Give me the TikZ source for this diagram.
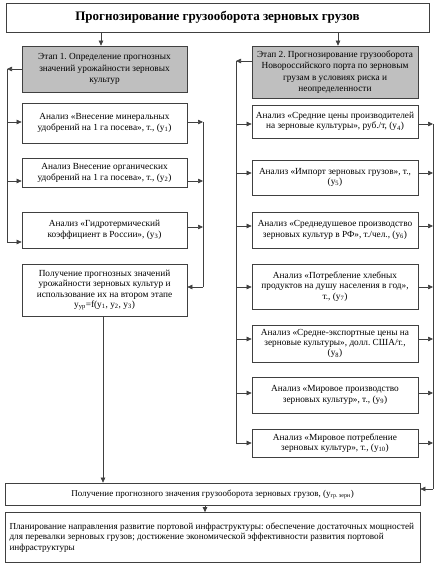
\documentclass[tikz,border=0pt]{standalone}
\usepackage{fontspec}
\setmainfont{Liberation Serif}
\usetikzlibrary{arrows.meta}
\newcommand{\sbs}[1]{\textsubscript{#1}}
\frenchspacing
\begin{document}
\begin{tikzpicture}[x=1pt,y=-1pt,
  box/.style={draw=black!75, line width=0.7pt, fill=white, align=flush center, inner sep=1pt,
    font=\fontsize{9.3}{10.4}\selectfont, text width=158pt},
  stagebox/.style={box, fill=black!25, font=\fontsize{9.3}{11.4}\selectfont},
  arr/.style={-{Triangle[length=5pt,width=4.5pt]}, line width=0.6pt, draw=black!75},
  ln/.style={line width=0.6pt, draw=black!75}]
\useasboundingbox (0,0) rectangle (435,564);
% title
\node[draw=black!75, line width=0.7pt, minimum width=423pt, minimum height=29pt, inner sep=0pt,
  font=\fontsize{13}{15}\selectfont\bfseries] (title) at (217.5,17.5) {Прогнозирование грузооборота зерновых грузов};
% stages
\node[stagebox, minimum width=165pt, minimum height=46pt, text width=150pt] (s1) at (104.5,69) {Этап 1. Определение прогнозных значений урожайности зерновых культур};
\node[stagebox, minimum width=166pt, minimum height=52pt, text width=162pt] (s2) at (335,72) {Этап 2. Прогнозирование грузооборота Новороссийского порта по зерновым грузам в условиях риска и неопределенности};
% left boxes
\node[box, minimum width=165pt, minimum height=40pt] (l1) at (104.5,123) {Анализ «Внесение минеральных удобрений на 1 га посева», т., (y\sbs{1})};
\node[box, minimum width=165pt, minimum height=29pt] (l2) at (104.5,173) {Анализ Внесение органических удобрений на 1 га посева», т., (y\sbs{2})};
\node[box, minimum width=165pt, minimum height=36pt] (l3) at (104.5,230) {Анализ «Гидротермический коэффициент в России», (y\sbs{3})};
\node[box, minimum width=165pt, minimum height=52pt] (l4) at (104.5,290) {Получение прогнозных значений урожайности зерновых культур и использование их на втором этапе y\sbs{ур}=f(y\sbs{1}, y\sbs{2}, y\sbs{3})};
% right boxes
\node[box, minimum width=166pt, minimum height=33pt, text width=162pt] (r4) at (335,121.5) {Анализ «Средние цены производителей на зерновые культуры», руб./т, (y\sbs{4})};
\node[box, minimum width=166pt, minimum height=35pt] (r5) at (335,177.5) {Анализ «Импорт зерновых грузов», т., (y\sbs{5})};
\node[box, minimum width=166pt, minimum height=36pt, text width=162pt] (r6) at (335,230) {Анализ «Среднедушевое производство зерновых культур в РФ», т./чел., (y\sbs{6})};
\node[box, minimum width=166pt, minimum height=45pt, text width=150pt] (r7) at (335,286.5) {Анализ «Потребление хлебных продуктов на душу населения в год», т., (y\sbs{7})};
\node[box, minimum width=166pt, minimum height=37pt, text width=162pt] (r8) at (335,343.5) {Анализ «Средне-экспортные цены на\\ зерновые культуры», долл. США/т.,\\ (y\sbs{8})};
\node[box, minimum width=166pt, minimum height=36pt] (r9) at (335,395) {Анализ «Мировое производство зерновых культур», т., (y\sbs{9})};
\node[box, minimum width=166pt, minimum height=28pt] (r10) at (335,443) {Анализ «Мировое потребление зерновых культур», т., (y\sbs{10})};
% bottom boxes
\node[box, minimum width=415pt, minimum height=22pt, text width=400pt, font=\fontsize{9}{10.4}\selectfont] (b1) at (212.5,494) {Получение прогнозного значения грузооборота зерновых грузов, (y\sbs{гр. зерн})};
\node[box, minimum width=415pt, minimum height=50pt, text width=406pt, inner sep=3pt, align=flush left, font=\fontsize{9.2}{10.6}\selectfont] (b2) at (212.5,537.5) {Планирование направления развитие портовой инфраструктуры: обеспечение достаточных мощностей для перевалки зерновых грузов; достижение экономической эффективности развития портовой инфраструктуры};
% helper coordinates
\coordinate (lt) at (7,69);
\coordinate (lb) at (7,242);
\coordinate (rt) at (236,61);
\coordinate (rb) at (236,443);
\coordinate (mt) at (203,122);
\coordinate (mb) at (203,287);
\coordinate (et) at (433,124);
\coordinate (eb) at (433,489);
% title arrows
\draw[arr] (title.south -| 101,0) -- (s1.north -| 101,0);
\draw[arr] (title.south -| 338,0) -- (s2.north -| 338,0);
% left feedback
\draw[arr] (s1.west |- lt) -- (lt);
\draw[ln] (lt) -- (lb);
\draw[arr] (7,122) -- (l1.west |- 0,122);
\draw[arr] (7,181) -- (l2.west |- 0,181);
\draw[arr] (lb) -- (l3.west |- lb);
% left outputs
\draw[arr] (l1.east |- mt) -- (mt);
\draw[arr] (l2.east |- 0,181) -- (203,181);
\draw[arr] (l3.east |- 0,227) -- (203,227);
\draw[ln] (mt) -- (mb);
\draw[arr] (mb) -- (l4.east |- mb);
\draw[arr] (l4.south -| 103,0) -- (b1.north -| 103,0);
% right side
\draw[arr] (s2.west |- rt) -- (rt);
\draw[ln] (rt) -- (rb);
\foreach \n/\yy in {r4/124, r5/173, r6/226, r7/287, r8/339, r9/393, r10/443} {
  \draw[arr] (236,\yy) -- (\n.west |- 0,\yy);
  \draw[arr] (\n.east |- 0,\yy) -- (433,\yy);
}
\draw[ln] (et) -- (eb);
\draw[arr] (eb) -- (b1.east |- eb);
\draw[arr] (b1.south -| 205,0) -- (b2.north -| 205,0);
\end{tikzpicture}
\end{document}
